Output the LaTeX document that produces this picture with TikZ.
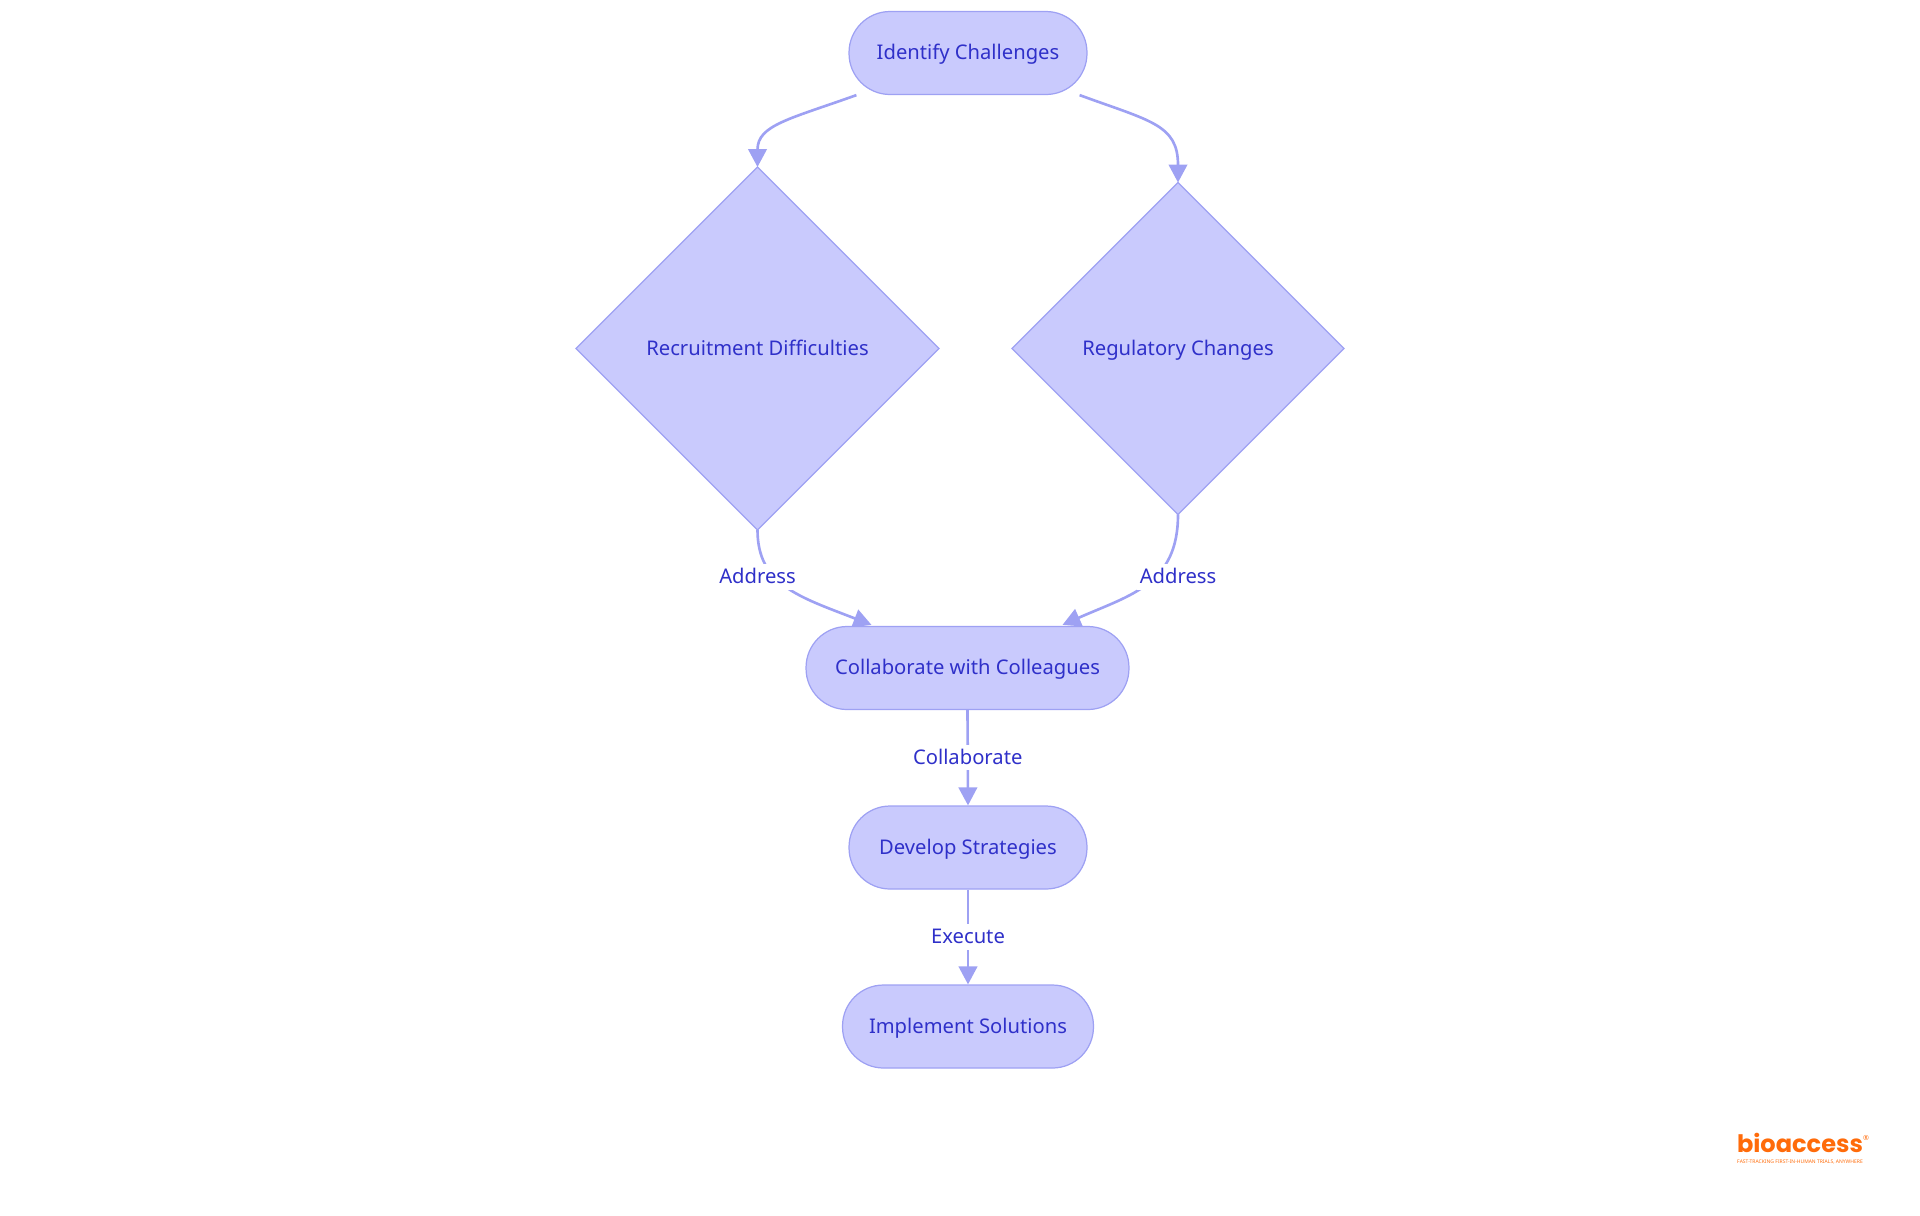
\documentclass[tikz,border=0pt]{standalone}
\usepackage{fontspec}
\setmainfont{Noto Sans}
\newfontfamily\logofont{Poppins}
\usetikzlibrary{arrows.meta,shapes.geometric,backgrounds}
\definecolor{nodefill}{HTML}{C9CAFD}
\definecolor{nodeline}{HTML}{9EA1F3}
\definecolor{nodetext}{HTML}{2F30C9}
\definecolor{logoorange}{HTML}{FF6B0A}
\tikzset{
  flowbox/.style={draw=nodeline,fill=nodefill,text=nodetext,line width=.7pt,rounded corners=.82cm,minimum height=1.66cm,inner sep=0pt,text height=9.4pt,text depth=2pt},
  decision/.style={diamond,draw=nodeline,fill=nodefill,text=nodetext,line width=.7pt,aspect=1,inner sep=0pt,outer sep=0pt,text height=9.4pt,text depth=2pt},
  flowedge/.style={-{Triangle[length=.36cm,width=.37cm]},draw=nodeline,line width=1.5pt},
  edgelabel/.style={fill=white,text=nodetext,inner sep=1.5pt,text height=9.4pt,text depth=2pt},
}
\begin{document}
\begin{tikzpicture}[x=.02cm,y=-.02cm,every node/.append style={font=\fontsize{11.5}{14}\selectfont}]
\useasboundingbox (0,0) rectangle (1920,1215);
\node[flowbox,minimum width=4.76cm] (identify) at (968,53) {Identify Challenges};
\node[decision,minimum width=7.26cm,minimum height=7.26cm] (recruit) at (757.5,348.5) {Recruitment Difficulties};
\node[decision,minimum width=6.64cm,minimum height=6.64cm] (regulatory) at (1178,348.5) {Regulatory Changes};
\node[flowbox,minimum width=6.46cm] (collab) at (967.5,668) {Collaborate with Colleagues};
\node[flowbox,minimum width=4.76cm] (develop) at (968,847.5) {Develop Strategies};
\node[flowbox,minimum width=5.02cm] (implement) at (968,1026.5) {Implement Solutions};
\node[edgelabel] (addressL) at (757.5,577) {Address};
\node[edgelabel] (addressR) at (1178,577) {Address};
\coordinate (startL) at ([xshift=.16cm]identify.south west);
\coordinate (startR) at ([xshift=-.16cm]identify.south east);
\coordinate (endL) at ([xshift=-1.92cm,yshift=.02cm]collab.north);
\coordinate (endR) at ([xshift=1.9cm,yshift=.02cm]collab.north);
\begin{scope}[on background layer]
\draw[flowedge] (startL) .. controls +(-67,24) and +(0,-42) .. (recruit.north);
\draw[flowedge] (startR) .. controls +(71,26) and +(0,-58) .. (regulatory.north);
\draw[flowedge] (recruit.south) .. controls +(0,55) and +(-72,-28) .. (endL);
\draw[flowedge] (regulatory.south) .. controls +(0,70) and +(68,-30) .. (endR);
\draw[flowedge] (collab.south) -- node[edgelabel] (collaborate) {Collaborate} (develop.north);
\draw[flowedge] (develop.south) -- node[edgelabel] (execute) {Execute} (implement.north);
\end{scope}
\node[text=logoorange,font=\logofont\fontsize{13.7}{16}\bfseries\selectfont,inner sep=0pt] (logo) at (1800,1143) {bioaccess};
\node[text=logoorange,font=\fontsize{2.85}{3}\selectfont,inner sep=0pt] (tagline) at (1800,1162) {FAST-TRACKING FIRST-IN-HUMAN TRIALS, ANYWHERE};
\node[text=logoorange,font=\fontsize{4}{4}\selectfont,inner sep=0pt] (regmark) at (1866,1138) {®};
\end{tikzpicture}
\end{document}
